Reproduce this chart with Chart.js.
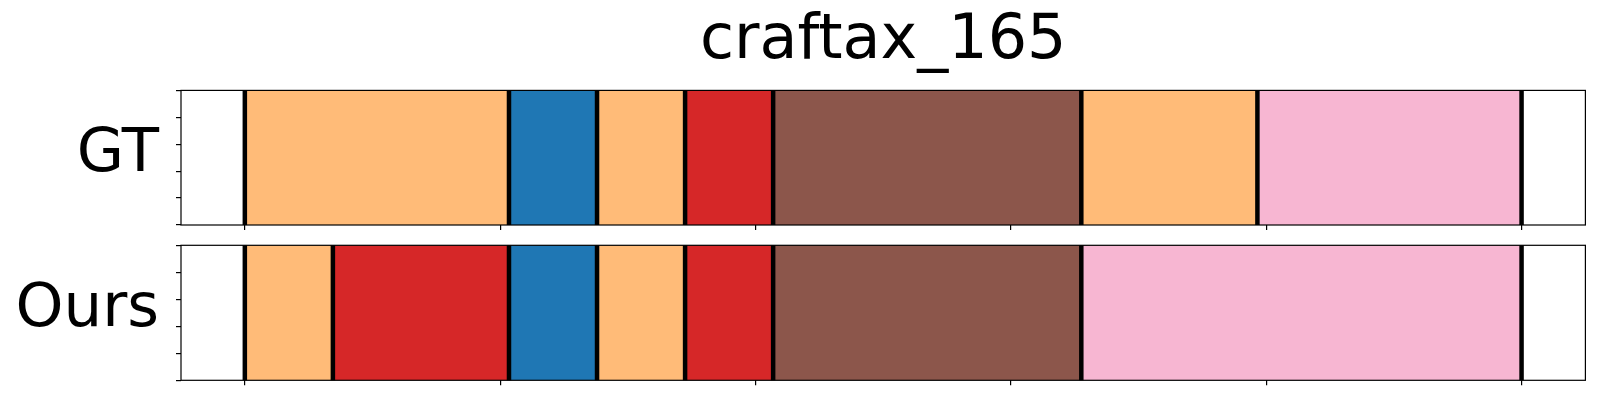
<!DOCTYPE html>
<html>
<head>
<meta charset="utf-8">
<script src="https://cdn.jsdelivr.net/npm/chart.js@4.4.1/dist/chart.umd.min.js"></script>
<style>
  html, body { margin: 0; padding: 0; background: #fff; }
  #wrap { position: relative; width: 1600px; height: 400px; }
  canvas { position: absolute; left: 0; }
</style>
</head>
<body>
<div id="wrap">
  <canvas id="c1" width="1600" height="240" style="top:0px"></canvas>
  <canvas id="c2" width="1600" height="160" style="top:240px"></canvas>
</div>
<script>
const chartTitle = 'craftax_165';
const rowLabels = ['GT', 'Ours'];
// segment class ids and durations (in steps)
const gtClasses = [3, 0, 3, 6, 10, 3, 13];
const gtDurations = [6, 2, 2, 2, 7, 4, 6];
const oursClasses = [3, 6, 0, 3, 6, 10, 13];
const oursDurations = [2, 4, 2, 2, 2, 7, 10];
const xTickValues = [0, 5.8, 11.6, 17.4, 23.2, 29];
const yTickValues = [0, 0.25, 0.5, 0.75, 1];

const palette = {0: '#1f77b4', 3: '#ffbb78', 6: '#d62728', 10: '#8c564b', 13: '#f7b6d2'};
const FONT = 'DejaVu Sans';
Chart.defaults.font.family = FONT;

function total(arr) { return arr.reduce((a, b) => a + b, 0); }

const framePlugin = {
  id: 'frame',
  afterDatasetsDraw(chart, args, opts) {
    const ctx = chart.ctx, a = chart.chartArea, xs = chart.scales.x;
    ctx.save();
    let acc = 0;
    const bounds = [0];
    opts.durations.forEach(d => { acc += d; bounds.push(acc); });
    ctx.strokeStyle = '#000';
    ctx.lineWidth = 4.5;
    bounds.forEach(b => {
      const px = xs.getPixelForValue(b);
      ctx.beginPath();
      ctx.moveTo(px, a.top);
      ctx.lineTo(px, a.bottom);
      ctx.stroke();
    });
    ctx.lineWidth = 1.2;
    ctx.strokeRect(a.left, a.top, a.right - a.left, a.bottom - a.top);
    ctx.restore();
  }
};

function makeChart(id, label, classes, durations, padding, withTitle) {
  const n = total(durations);
  const datasets = durations.map((d, i) => ({
    label: 'seg' + i,
    data: [d],
    backgroundColor: palette[classes[i]],
    borderWidth: 0,
    barPercentage: 1,
    categoryPercentage: 1
  }));
  return new Chart(document.getElementById(id), {
    type: 'bar',
    data: { labels: [label], datasets },
    options: {
      indexAxis: 'y',
      responsive: false,
      animation: false,
      events: [],
      layout: { padding },
      plugins: {
        legend: { display: false },
        tooltip: { enabled: false },
        title: {
          display: withTitle,
          text: chartTitle,
          fullSize: false,
          color: '#000',
          font: { family: FONT, size: 62, weight: 'normal', lineHeight: 1.2 },
          padding: { top: 4.5, bottom: 11.5 }
        },
        frame: { durations }
      },
      scales: {
        x: {
          type: 'linear',
          stacked: true,
          min: -0.05 * n,
          max: 1.05 * n,
          afterBuildTicks: (s) => { s.ticks = xTickValues.map(v => ({ value: v })); },
          afterFit: (s) => { s.height = 5; s.paddingLeft = 0; s.paddingRight = 0; },
          ticks: { display: false },
          grid: { display: true, drawOnChartArea: false, drawTicks: true, tickLength: 5, color: '#000', lineWidth: 1.2 },
          border: { display: false }
        },
        y: {
          type: 'category',
          stacked: true,
          position: 'left',
          weight: 1,
          afterFit: (s) => { s.width = 176; s.paddingTop = 0; s.paddingBottom = 0; },
          ticks: { color: '#000', font: { family: FONT, size: 61 }, padding: 9, labelOffset: -3 },
          grid: { display: false },
          border: { display: false }
        },
        y2: {
          type: 'linear',
          position: 'left',
          weight: 0,
          min: 0,
          max: 1,
          afterBuildTicks: (s) => { s.ticks = yTickValues.map(v => ({ value: v })); },
          afterFit: (s) => { s.width = 5; s.paddingTop = 0; s.paddingBottom = 0; },
          ticks: { display: false, stepSize: 0.25 },
          grid: { display: true, drawOnChartArea: false, drawTicks: true, tickLength: 5, color: '#000', lineWidth: 1.2 },
          border: { display: false }
        }
      }
    },
    plugins: [framePlugin]
  });
}

makeChart('c1', rowLabels[0], gtClasses, gtDurations, { top: 0, bottom: 10, left: 0, right: 14.6 }, true);
makeChart('c2', rowLabels[1], oursClasses, oursDurations, { top: 5.3, bottom: 14.7, left: 0, right: 14.6 }, false);
</script>
</body>
</html>
